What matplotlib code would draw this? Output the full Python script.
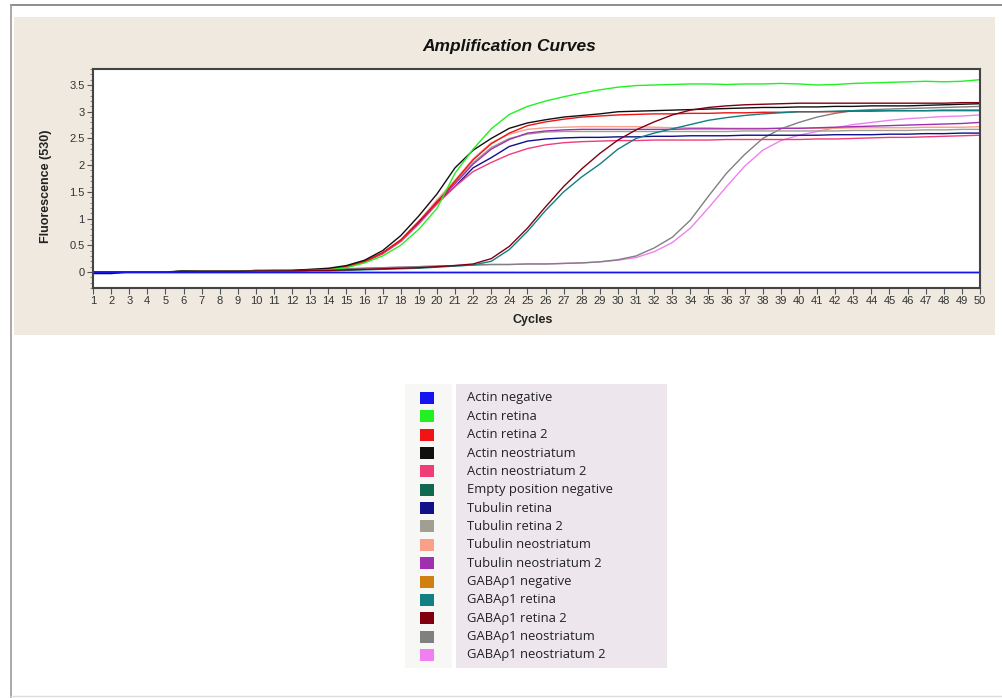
import matplotlib.pyplot as plt
from matplotlib.patches import Rectangle
from matplotlib.ticker import MultipleLocator

cycles = list(range(1, 51))

labels = ['Actin negative', 'Actin retina', 'Actin retina 2', 'Actin neostriatum',
          'Actin neostriatum 2', 'Empty position negative', 'Tubulin retina',
          'Tubulin retina 2', 'Tubulin neostriatum', 'Tubulin neostriatum 2',
          'GABA\u03c11 negative', 'GABA\u03c11 retina', 'GABA\u03c11 retina 2',
          'GABA\u03c11 neostriatum', 'GABA\u03c11 neostriatum 2']
colors = ['#1414f0', '#22f022', '#f01414', '#101010', '#f03c78', '#106850',
          '#10108a', '#a09f90', '#f8a088', '#a030b0', '#d08010', '#108080',
          '#800010', '#808080', '#f080f0']

actin_negative = [0.0] * 50
empty_negative = [0.0] * 50
gaba_negative = [0.0] * 50

actin_retina = [0, 0, 0, 0, 0, 0.01, 0.01, 0.01, 0.01, 0.02, 0.02, 0.02, 0.03,
                0.04, 0.08, 0.17, 0.3, 0.5, 0.8, 1.19,
                1.85, 2.3, 2.68, 2.95, 3.1, 3.2, 3.28, 3.35, 3.41, 3.46,
                3.49, 3.5, 3.51, 3.52, 3.52, 3.51, 3.52, 3.52, 3.53, 3.52,
                3.5, 3.51, 3.53, 3.54, 3.55, 3.56, 3.57, 3.56, 3.57, 3.6]
actin_retina2 = [0, 0, 0, 0, 0, 0.01, 0.01, 0.01, 0.01, 0.02, 0.02, 0.02, 0.03,
                 0.05, 0.1, 0.2, 0.36, 0.6, 0.95, 1.3,
                 1.7, 2.1, 2.4, 2.6, 2.74, 2.81, 2.86, 2.9, 2.92, 2.94,
                 2.95, 2.96, 2.96, 2.97, 2.97, 2.98, 2.98, 2.99, 2.99, 3.0,
                 3.0, 3.0, 3.01, 3.01, 3.02, 3.02, 3.02, 3.03, 3.03, 3.03]
actin_neo = [-0.03, -0.03, 0.0, 0.0, 0.0, 0.02, 0.01, 0.01, 0.01, 0.03, 0.03, 0.03, 0.05,
             0.07, 0.12, 0.22, 0.4, 0.68, 1.05, 1.46,
             1.95, 2.28, 2.5, 2.69, 2.79, 2.85, 2.9, 2.93, 2.96, 3.0,
             3.01, 3.02, 3.03, 3.04, 3.05, 3.06, 3.07, 3.08, 3.08, 3.09,
             3.09, 3.1, 3.1, 3.11, 3.11, 3.11, 3.12, 3.13, 3.14, 3.15]
actin_neo2 = [0, 0, 0, 0, 0, 0.01, 0.01, 0.01, 0.01, 0.02, 0.02, 0.02, 0.03,
              0.05, 0.1, 0.19, 0.34, 0.57, 0.9, 1.27,
              1.6, 1.88, 2.05, 2.2, 2.31, 2.38, 2.42, 2.44, 2.45, 2.46,
              2.46, 2.47, 2.47, 2.47, 2.47, 2.48, 2.48, 2.48, 2.48, 2.48,
              2.49, 2.49, 2.5, 2.51, 2.52, 2.52, 2.53, 2.54, 2.55, 2.56]
tub_retina = [0, 0, 0, 0, 0, 0.01, 0.01, 0.01, 0.01, 0.02, 0.02, 0.02, 0.03,
              0.05, 0.1, 0.19, 0.35, 0.58, 0.92, 1.3,
              1.6, 1.95, 2.14, 2.35, 2.45, 2.49, 2.51, 2.52, 2.52, 2.53,
              2.53, 2.54, 2.54, 2.55, 2.55, 2.55, 2.56, 2.56, 2.56, 2.56,
              2.56, 2.57, 2.57, 2.57, 2.58, 2.58, 2.59, 2.59, 2.6, 2.6]
tub_retina2 = [0, 0, 0, 0, 0, 0.01, 0.01, 0.01, 0.01, 0.02, 0.02, 0.02, 0.03,
               0.05, 0.1, 0.2, 0.36, 0.6, 0.94, 1.33,
               1.68, 2.05, 2.33, 2.5, 2.58, 2.62, 2.63, 2.63, 2.63, 2.63,
               2.63, 2.63, 2.63, 2.63, 2.63, 2.63, 2.64, 2.64, 2.64, 2.64,
               2.64, 2.64, 2.65, 2.65, 2.65, 2.65, 2.66, 2.66, 2.67, 2.67]
tub_neo = [0, 0, 0, 0, 0, 0.01, 0.01, 0.01, 0.01, 0.02, 0.02, 0.02, 0.03,
           0.05, 0.1, 0.2, 0.36, 0.6, 0.95, 1.35,
           1.72, 2.12, 2.42, 2.58, 2.67, 2.7, 2.71, 2.72, 2.72, 2.72,
           2.72, 2.71, 2.7, 2.7, 2.7, 2.69, 2.69, 2.69, 2.69, 2.69,
           2.69, 2.69, 2.7, 2.7, 2.7, 2.7, 2.71, 2.71, 2.71, 2.72]
tub_neo2 = [0, 0, 0, 0, 0, 0.01, 0.01, 0.01, 0.01, 0.02, 0.02, 0.02, 0.03,
            0.05, 0.1, 0.19, 0.35, 0.58, 0.93, 1.32,
            1.65, 2.02, 2.3, 2.48, 2.6, 2.64, 2.66, 2.67, 2.67, 2.67,
            2.67, 2.67, 2.67, 2.68, 2.68, 2.68, 2.68, 2.68, 2.69, 2.69,
            2.7, 2.71, 2.72, 2.73, 2.74, 2.75, 2.76, 2.77, 2.78, 2.8]
gaba_retina = [0, 0, 0, 0, 0, 0.01, 0.01, 0.01, 0.01, 0.02, 0.02, 0.02, 0.02,
               0.02, 0.03, 0.04, 0.05, 0.06, 0.07, 0.09, 0.11,
               0.13, 0.2, 0.42, 0.76, 1.15, 1.5, 1.78, 2.02, 2.3,
               2.5, 2.6, 2.68, 2.76, 2.84, 2.89, 2.93, 2.96, 2.98, 3.0,
               3.0, 3.01, 3.02, 3.02, 3.02, 3.02, 3.02, 3.02, 3.02, 3.02]
gaba_retina2 = [0, 0, 0, 0, 0, 0.01, 0.01, 0.01, 0.01, 0.02, 0.02, 0.02, 0.03,
                0.03, 0.04, 0.05, 0.06, 0.07, 0.08, 0.1, 0.12,
                0.15, 0.25, 0.48, 0.82, 1.22, 1.6, 1.93, 2.22, 2.47,
                2.66, 2.81, 2.94, 3.03, 3.08, 3.11, 3.13, 3.14, 3.15, 3.16,
                3.16, 3.16, 3.16, 3.16, 3.16, 3.16, 3.16, 3.16, 3.17, 3.17]
gaba_neo = [0, 0, 0, 0, 0, 0.01, 0.01, 0.01, 0.02, 0.02, 0.03, 0.03, 0.04,
            0.05, 0.06, 0.07, 0.08, 0.09, 0.1, 0.11, 0.12,
            0.13, 0.14, 0.14, 0.15, 0.15, 0.16, 0.17, 0.19, 0.23, 0.3,
            0.45, 0.65, 0.97, 1.42, 1.85, 2.2, 2.5, 2.68, 2.8, 2.9,
            2.97, 3.02, 3.04, 3.05, 3.06, 3.07, 3.08, 3.09, 3.1]
gaba_neo2 = [0, 0, 0, 0, 0, 0, 0.01, 0.01, 0.01, 0.02, 0.02, 0.03, 0.04,
             0.05, 0.06, 0.07, 0.08, 0.09, 0.1, 0.11, 0.12,
             0.13, 0.14, 0.14, 0.15, 0.15, 0.16, 0.17, 0.19, 0.22, 0.27,
             0.38, 0.55, 0.82, 1.2, 1.6, 1.98, 2.28, 2.46, 2.56, 2.63,
             2.7, 2.76, 2.8, 2.84, 2.87, 2.89, 2.91, 2.92, 2.94]

series = [actin_negative, actin_retina, actin_retina2, actin_neo, actin_neo2,
          empty_negative, tub_retina, tub_retina2, tub_neo, tub_neo2,
          gaba_negative, gaba_retina, gaba_retina2, gaba_neo, gaba_neo2]

W, H = 1002, 698


def fx(x):
    return x / W


def fy(y):
    return 1 - y / H


fig = plt.figure(figsize=(W / 100, H / 100), dpi=100)
fig.patch.set_facecolor('white')

# outer frame lines
fig.add_artist(plt.Line2D([fx(11), fx(1002)], [fy(5), fy(5)], color='#7a7a7a', lw=1.2))
fig.add_artist(plt.Line2D([fx(11), fx(11)], [fy(5), fy(697)], color='#9a9a9a', lw=1.2))
fig.add_artist(plt.Line2D([fx(11), fx(1002)], [fy(696), fy(696)], color='#dddddd', lw=1.0))

# beige chart panel
fig.add_artist(Rectangle((fx(14), fy(335)), fx(995) - fx(14), fy(17) - fy(335),
                         facecolor='#efe9e0', edgecolor='none', zorder=0))

ax = fig.add_axes([fx(93), fy(288), fx(980) - fx(93), fy(69) - fy(288)])
ax.set_facecolor('white')

draw_order = [5, 10, 14, 13, 7, 8, 9, 6, 4, 2, 3, 1, 11, 12, 0]
for i in draw_order:
    ax.plot(cycles, series[i], color=colors[i], lw=1.0)

ax.set_xlim(1, 50)
ax.set_ylim(-0.3, 3.8)
ax.set_xticks(cycles)
ax.set_yticks([0, 0.5, 1, 1.5, 2, 2.5, 3, 3.5])
ax.set_yticklabels(['0', '0.5', '1', '1.5', '2', '2.5', '3', '3.5'])
ax.yaxis.set_minor_locator(MultipleLocator(0.1))

for t in ax.get_xticklabels() + ax.get_yticklabels():
    t.set_family('Liberation Sans')
    t.set_fontsize(8)
    t.set_color('#333333')
ax.tick_params(axis='both', which='major', length=4, width=0.8, color='#555555', pad=2)
ax.tick_params(axis='y', which='minor', length=2, width=0.6, color='#777777')
for s in ax.spines.values():
    s.set_color('#444444')
    s.set_linewidth(1.5)

fig.text(fx(509), fy(46), 'Amplification Curves', ha='center', va='center',
         fontsize=12.5, fontweight='bold', style='italic', family='Liberation Sans', color='#111111')
fig.text(fx(46), fy(186), 'Fluorescence (530)', ha='center', va='center', rotation=90,
         fontsize=9, fontweight='bold', family='Liberation Sans', color='#222222')
fig.text(fx(533), fy(320), 'Cycles', ha='center', va='center',
         fontsize=9, fontweight='bold', family='Liberation Sans', color='#222222')

# legend block
fig.add_artist(Rectangle((fx(405), fy(668)), fx(452) - fx(405), fy(384) - fy(668),
                         facecolor='#f7f8f5', edgecolor='none', zorder=0))
fig.add_artist(Rectangle((fx(456), fy(668)), fx(667) - fx(456), fy(384) - fy(668),
                         facecolor='#eee6ed', edgecolor='none', zorder=0))
row0, step = 398, 18.35
for i, (lab, c) in enumerate(zip(labels, colors)):
    yc = row0 + i * step
    fig.add_artist(Rectangle((fx(420), fy(yc + 6)), fx(434) - fx(420), fy(yc - 6) - fy(yc + 6),
                             facecolor=c, edgecolor='none', zorder=2))
    fig.text(fx(467), fy(yc), lab, ha='left', va='center', fontsize=9.4,
             family=['Open Sans', 'DejaVu Sans'], color='#222222')

fig.savefig('out.png', dpi=100)
